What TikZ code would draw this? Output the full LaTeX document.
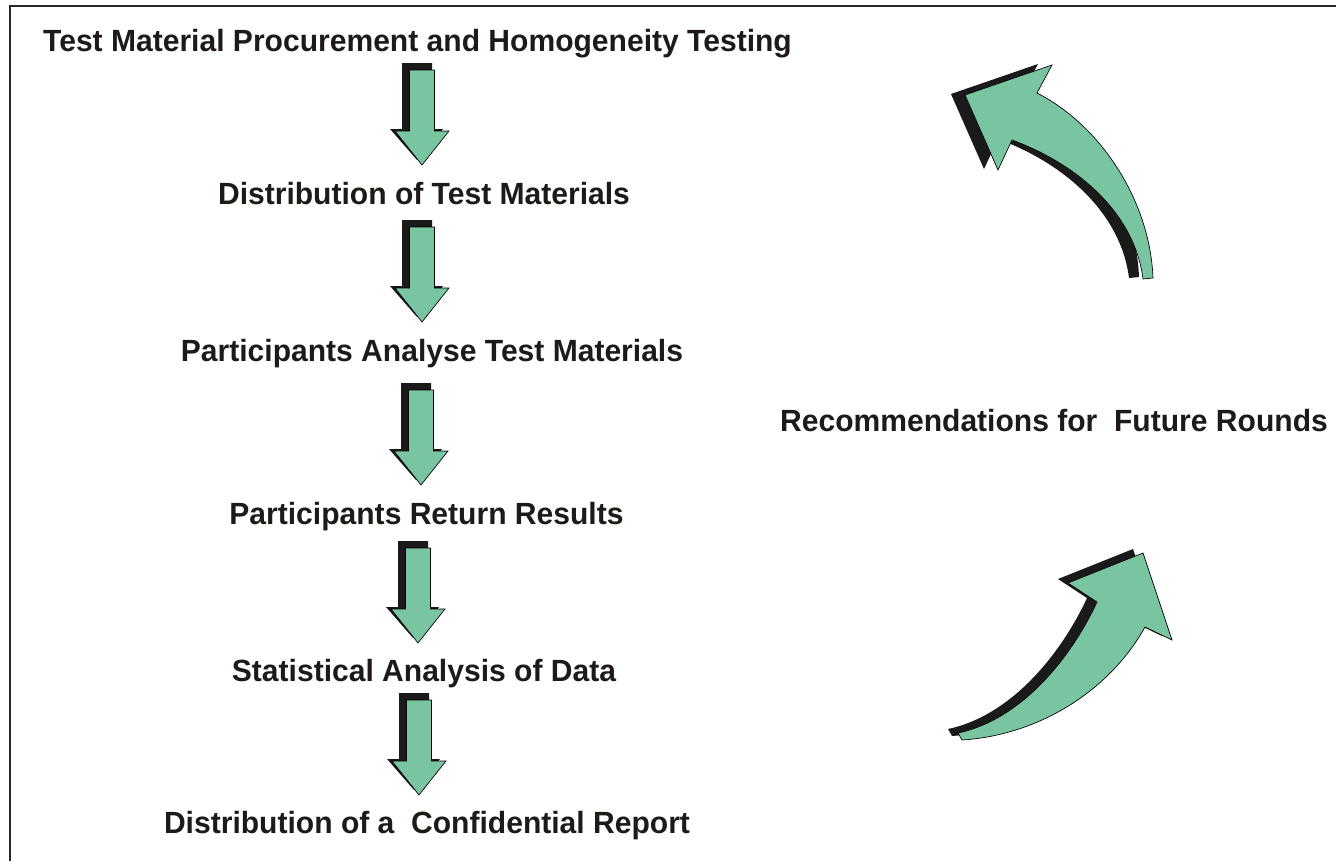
\documentclass[tikz,border=0pt]{standalone}
\usepackage{fontspec}
\setmainfont[FakeStretch=0.98]{Liberation Sans}
\definecolor{arrowgreen}{RGB}{121,196,161}
\definecolor{shadowc}{RGB}{26,26,26}
\definecolor{inkc}{RGB}{30,26,24}
\definecolor{framec}{RGB}{45,38,34}
\tikzset{
  label/.style={font=\fontsize{23}{28}\selectfont\bfseries, text=inkc, inner sep=0pt, anchor=base},
  greenfill/.style={fill=arrowgreen, draw=black, line width=0.5pt, line join=miter},
  shadowfill/.style={fill=shadowc},
  downarr/.pic={
    \fill[shadowfill] (-20,0) -- (10,0) -- (10,66) -- (21,66) -- (-5,97) -- (-32,66) -- (-20,66) -- cycle;
    \filldraw[greenfill] (-12.5,7) -- (12.5,7) -- (12.5,68) -- (27,68) -- (0,102) -- (-27,68) -- (-12.5,68) -- cycle;
  }
}
\begin{document}
\begin{tikzpicture}[x=0.75pt,y=-0.75pt]
\useasboundingbox (0,0) rectangle (1336,861);
% frame
\draw[framec, line width=2pt] (10,861) -- (10,6) -- (1336,6);

% text nodes
\node[label] (t1) at (417.5,51) {Test Material Procurement and Homogeneity Testing};
\node[label] (t2) at (424,204) {Distribution of Test Materials};
\node[label] (t3) at (432,361) {Participants Analyse Test Materials};
\node[label] (t4) at (426.5,524) {Participants Return Results};
\node[label] (t5) at (424,681) {Statistical Analysis of Data};
\node[label] (t6) at (427,833) {Distribution of a\ \ Confidential Report};
\node[label] (r) at (1054,431) {Recommendations for\ \ Future Rounds};

% block arrows
\pic at (422,63) {downarr};
\pic at (422,220) {downarr};
\pic at (421,383) {downarr};
\pic at (418,541) {downarr};
\pic at (419,693) {downarr};

% upper curved arrow (shadow then green)
\fill[shadowfill, xshift=-14*0.75pt, yshift=0.75pt]
  (965,95) -- (1052,65) -- (1037,93)
  .. controls (1100,125) and (1150,200) .. (1153,278)
  -- (1143,279)
  .. controls (1135,215) and (1080,165) .. (1012,140)
  -- (998,170) -- cycle;
\filldraw[greenfill]
  (965,95) -- (1052,65) -- (1037,93)
  .. controls (1100,125) and (1150,200) .. (1153,278)
  -- (1143,279)
  .. controls (1135,215) and (1080,165) .. (1012,140)
  -- (998,170) -- cycle;

% lower curved arrow (shadow then green)
\fill[shadowfill, xshift=-10*0.75pt, yshift=4*0.75pt]
  (962,740)
  .. controls (1040,735) and (1110,690) .. (1145,627)
  -- (1172,640) -- (1143,553) -- (1068,583) -- (1097,602)
  .. controls (1070,660) and (1020,720) .. (958,733)
  -- cycle;
\filldraw[greenfill]
  (962,740)
  .. controls (1040,735) and (1110,690) .. (1145,627)
  -- (1172,640) -- (1143,553) -- (1068,583) -- (1097,602)
  .. controls (1070,660) and (1020,720) .. (958,733)
  -- cycle;
\end{tikzpicture}
\end{document}
